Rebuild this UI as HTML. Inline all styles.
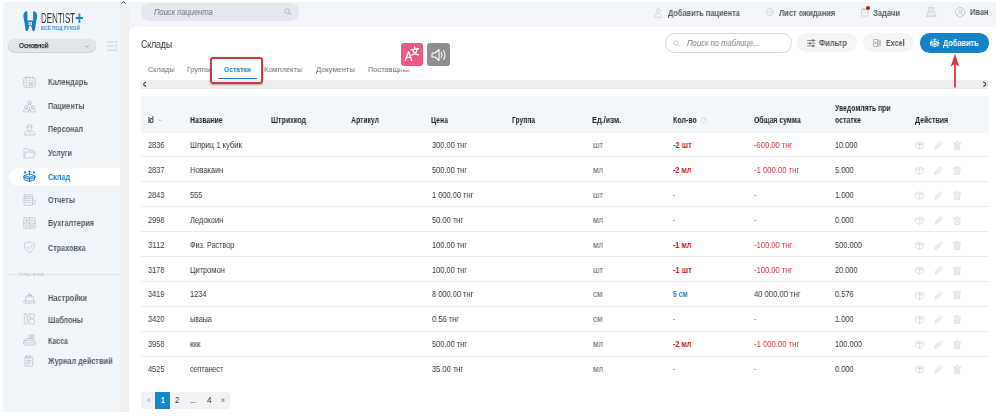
<!DOCTYPE html>
<html lang="ru">
<head>
<meta charset="utf-8">
<title>Dentist+ — Склады</title>
<style>
html,body{margin:0;padding:0;}
body{width:1000px;height:416px;position:relative;overflow:hidden;background:#fff;font-family:"Liberation Sans",sans-serif;}
.a{position:absolute;}
.t{position:absolute;white-space:nowrap;line-height:14px;height:14px;transform-origin:0 50%;will-change:transform;}
svg{position:absolute;overflow:visible;}
.ic{fill:none;stroke:#b3bbc7;stroke-width:1.3;stroke-linecap:round;stroke-linejoin:round;}
.hr{position:absolute;left:141px;width:847px;height:1px;background:#ececec;}
</style>
</head>
<body>
<!-- backgrounds -->
<div class="a" style="left:2.5px;top:1.5px;width:117px;height:410.4px;background:#f0f5fa;"></div>
<div class="a" style="left:119.5px;top:1.5px;width:9px;height:410.4px;background:#f0f0f0;"></div>
<div class="a" style="left:128.5px;top:1.5px;width:867px;height:34px;background:#f2f6fa;"></div>
<div class="a" style="left:128.5px;top:26.7px;width:867px;height:389.3px;background:#fff;border-top-left-radius:6px;"></div>
<!-- scrollbar arrow mark -->
<svg style="left:121.3px;top:0.8px" width="5" height="3" viewBox="0 0 10 6"><path d="M1 5 L5 1 L9 5" fill="none" stroke="#444" stroke-width="2"/></svg>

<!-- logo tooth -->
<svg style="left:22.5px;top:11px" width="14.5" height="20.5" viewBox="0 0 29 41">
<path d="M6.5 0.5 C2 2 0 7 1 13 C2 19 3.5 24 4 30 C4.4 35 5 40 7.5 40.5 C10 41 10.6 36 11.5 33 C12.2 30.5 13 29.5 14.5 29.5 C16 29.5 16.8 30.5 17.5 33 C18.4 36 19 41 21.5 40.5 C24 40 24.6 35 25 30 C25.5 24 27 19 28 13 C29 7 27 2 22.5 0.5 C21 0 20.2 1 20.2 2.5 L20.2 19 L8.8 19 L8.8 2.5 C8.8 1 8 0 6.5 0.5 Z" fill="#1b80c2"/>
<rect x="11" y="22" width="7" height="6.5" fill="#cfe6f5"/>
<rect x="13.3" y="24.5" width="2.4" height="2" fill="#1b80c2"/>
</svg>

<!-- clinic select -->
<div class="a" style="left:8px;top:39.4px;width:88px;height:12.2px;border-radius:6.5px;background:#e2e6eb;box-shadow:0 0.4px 1px rgba(0,0,0,.28);"></div>
<svg style="left:84.5px;top:45px" width="4.5" height="3" viewBox="0 0 9 6"><path d="M1 1 L4.5 4.5 L8 1" fill="none" stroke="#777" stroke-width="1.2"/></svg>
<!-- hamburger -->
<svg style="left:107px;top:41px" width="11" height="10" viewBox="0 0 22 20"><path d="M1 1.5 H20 M1 10 H13 M1 18.5 H20" class="ic" style="stroke:#bcc4cf;stroke-width:1.6"/><path d="M20 7 L16.5 10 L20 13" class="ic" style="stroke:#bcc4cf;stroke-width:1.4"/></svg>

<!-- active menu pill -->
<div class="a" style="left:9px;top:167.5px;width:110.5px;height:18px;background:#fff;border-radius:9px 0 0 9px;"></div>

<svg style="left:23px;top:75.7px" width="13" height="12" viewBox="0 0 26 24"><g class="ic" style=""><rect x="1.5" y="3" width="23" height="19.5" rx="3.5"/><path d="M7 1 V5 M13 1 V5 M19 1 V5"/><path d="M1.5 8.5 H24.5 M7.5 8.5 V22 M13 8.5 V22 M18.5 8.5 V22 M1.5 13 H24.5 M1.5 17.5 H24.5" stroke-opacity=".45"/><rect x="14.5" y="14" width="4" height="4"/></g></svg>
<svg style="left:23px;top:99.5px" width="13" height="12" viewBox="0 0 26 24"><g class="ic" style=""><circle cx="13" cy="5" r="3.2"/><path d="M8.5 14 V12 C8.5 9.5 10.5 8.6 13 8.6 C15.5 8.6 17.5 9.5 17.5 12 V14"/><circle cx="6" cy="14.5" r="2.8"/><circle cx="20" cy="14.5" r="2.8"/><path d="M1.2 23 V21 C1.2 18.7 3.2 17.8 6 17.8 C8.8 17.8 10.8 18.7 10.8 21 V23 Z"/><path d="M15.2 23 V21 C15.2 18.7 17.2 17.8 20 17.8 C22.8 17.8 24.8 18.7 24.8 21 V23 Z"/><path d="M13 14 V21 M11.3 19.3 L13 21 L14.7 19.3"/></g></svg>
<svg style="left:23px;top:122.5px" width="13" height="12" viewBox="0 0 26 24"><g class="ic" style=""><path d="M8 6 C8 2 18 2 18 6 V7.5 H8 Z"/><path d="M8.3 7.5 C8 12 10 15 13 15 C16 15 18 12 17.7 7.5"/><path d="M2 23 C2 18.5 5 17 9.5 16.2 L13 19.5 L16.5 16.2 C21 17 24 18.5 24 23 Z"/></g></svg>
<svg style="left:23px;top:146.7px" width="13" height="12" viewBox="0 0 26 24"><g class="ic" style=""><path d="M2 21 V4.5 C2 3.5 2.8 3 3.5 3 H9 L11.5 6 H20 C21 6 21.5 6.7 21.5 7.5 V10"/><path d="M2 21 L6 10 H25 L21 21 Z"/></g></svg>
<svg style="left:23px;top:170.3px" width="13" height="12" viewBox="0 0 26 24"><g class="ic" style="stroke:#1b80c2;stroke-width:1.9"><path d="M3 11 L13 14.5 L23 11 V19.5 L13 23 L3 19.5 Z" fill="#cfe9f7"/><path d="M13 14.5 V23"/><path d="M3 11 L13 7.8 L23 11"/><path d="M3 11 L0.8 14.2 L10.5 17.6 L13 14.5 L15.5 17.6 L25.2 14.2 L23 11"/><path d="M13 10.5 V2 M10.3 4.6 L13 1.6 L15.7 4.6"/><path d="M2 7 L5.2 4 M5.2 4 V6.3 M5.2 4 H2.9"/><path d="M24 7 L20.8 4 M20.8 4 V6.3 M20.8 4 H23.1"/></g></svg>
<svg style="left:23px;top:193.8px" width="13" height="12" viewBox="0 0 26 24"><g class="ic" style=""><rect x="2" y="1.5" width="17" height="21" rx="1.5"/><path d="M5 5 H16 V9 H5 Z M5 13 H8 M10 13 H13 M5 17 H8 M10 17 H13 M15 13 H16 M15 17 H16"/><path d="M19 12 H24 V20 H19"/></g></svg>
<svg style="left:23px;top:217.2px" width="13" height="12" viewBox="0 0 26 24"><g class="ic" style=""><rect x="1.5" y="1.5" width="23" height="21" rx="2.5"/><path d="M13 1.5 V22.5 M1.5 12 H24.5"/><path d="M5 6.8 H10 M7.5 4.3 V9.3 M16 6.8 H21 M5.2 15 L9.8 19.5 M9.8 15 L5.2 19.5 M16 16 H21 M16 18.8 H21"/></g></svg>
<svg style="left:23px;top:241.3px" width="13" height="12" viewBox="0 0 26 24"><g class="ic" style=""><path d="M13 1.5 C9 4 5.5 4.8 2.5 4.8 C2.5 13 5 19.5 13 23 C21 19.5 23.5 13 23.5 4.8 C20.5 4.8 17 4 13 1.5 Z"/><path d="M8 12 L11.8 15.8 L18.5 8.5"/></g></svg>
<svg style="left:23px;top:292.3px" width="13" height="12" viewBox="0 0 26 24"><g class="ic" style=""><path d="M5 18 V9.5 H9 M17 9.5 H21 V18"/><path d="M1.5 18 H24.5 V19.5 C24.5 21 23.8 22 22.5 22 H3.5 C2.2 22 1.5 21 1.5 19.5 Z"/><circle cx="13" cy="7" r="3.2"/><circle cx="13" cy="7" r="0.8"/><path d="M13 2 V3.8 M17.5 7 H16.2 M8.5 7 H9.8"/></g></svg>
<svg style="left:23px;top:312.6px" width="13" height="12" viewBox="0 0 26 24"><g class="ic" style=""><rect x="2.5" y="2" width="6" height="20" rx="2"/><rect x="12" y="2" width="11" height="7" rx="2"/><rect x="12" y="12.5" width="11" height="9.5" rx="2"/></g></svg>
<svg style="left:23px;top:333.9px" width="13" height="12" viewBox="0 0 26 24"><g class="ic" style=""><rect x="1.5" y="13" width="23" height="9" rx="1.5"/><path d="M1.5 17.5 H24.5"/><path d="M5 13 L6.5 9 H19.5 L21 13"/><rect x="13" y="1.5" width="8.5" height="7.5"/><path d="M15 4 H19.5 M15 6.5 H19.5"/></g></svg>
<svg style="left:23px;top:354.8px" width="13" height="12" viewBox="0 0 26 24"><g class="ic" style=""><path d="M5 4 H18 C19 4 19.5 4.6 19.5 5.5 V21 C19.5 22 19 22.5 18 22.5 H5 C4 22.5 3.5 22 3.5 21 V5.5 C3.5 4.6 4 4 5 4 Z"/><path d="M8 1.5 H15 V7 H8 Z"/><path d="M7 11 H16 M7 14.5 H16 M7 18 H13"/></g></svg>
<svg style="left:654px;top:7.6px" width="8" height="9.4" viewBox="0 0 16 19"><g class="ic" style="stroke:#c3c9d1;stroke-width:1.4"><circle cx="8" cy="5" r="3.8"/><path d="M1 18 C1 12.5 4 10.8 8 10.8 C12 10.8 15 12.5 15 18 Z"/></g></svg>
<svg style="left:766px;top:8.3px" width="8" height="8" viewBox="0 0 16 16"><g class="ic" style="stroke:#c3c9d1;stroke-width:1.4"><circle cx="8" cy="8" r="7"/><path d="M8 4 V8.3 H11.5"/></g></svg>
<svg style="left:861.2px;top:8.4px" width="7.2" height="8.6" viewBox="0 0 15 18"><g class="ic" style="stroke:#bfc5ce;stroke-width:1.4"><rect x="1" y="2.5" width="13" height="14.5" rx="1.5"/><path d="M4.5 1 H10.5 V4 H4.5 Z M4 10.5 L6 12.5 L9.5 8.5"/></g></svg>
<div class="a" style="left:866.2px;top:6px;width:4.3px;height:4.3px;border-radius:50%;background:#c8141c;"></div>
<svg style="left:925.6px;top:6.8px" width="10.6" height="10.2" viewBox="0 0 21 20"><g class="ic" style="stroke:#ccd1d8;stroke-width:1.5"><path d="M5 1 V10 M8.5 1 V10 M12.5 1 V10 M16 1 V10 M5 1 H16"/><path d="M4.5 10 H16.5 L19 16 H2 Z"/><path d="M1 19 H20 M2 16 V19 M19 16 V19"/></g></svg>
<svg style="left:954.6px;top:7.2px" width="10.4" height="10.4" viewBox="0 0 21 21"><g class="ic" style="stroke:#b5bbc4;stroke-width:1.3"><circle cx="10.5" cy="10.5" r="9.6"/><circle cx="10.5" cy="8" r="3.2"/><path d="M4.3 17.5 C5 13.8 7.5 12.8 10.5 12.8 C13.5 12.8 16 13.8 16.7 17.5"/></g></svg>

<!-- section divider -->
<div class="a" style="left:9px;top:274.3px;width:8px;height:0.7px;background:#dde3e9;"></div>
<div class="a" style="left:46px;top:274.3px;width:73px;height:0.7px;background:#dde3e9;"></div>

<!-- top search pill -->
<div class="a" style="left:141px;top:3px;width:158.3px;height:17.7px;border-radius:8.9px;background:#e3e8ee;"></div>
<svg style="left:283.8px;top:7.9px" width="7.5" height="7.5" viewBox="0 0 15 15"><circle cx="6.3" cy="6.3" r="4.8" fill="none" stroke="#9aa2ad" stroke-width="1.3"/><path d="M10 10 L13.6 13.6" stroke="#9aa2ad" stroke-width="1.5" stroke-linecap="round"/></svg>

<!-- toolbar -->
<div class="a" style="left:665px;top:33px;width:125px;height:18px;border-radius:9.5px;border:0.8px solid #d6d9dd;background:#fff;"></div>
<svg style="left:673px;top:39.8px" width="7" height="7" viewBox="0 0 15 15"><circle cx="6.3" cy="6.3" r="4.8" fill="none" stroke="#a9aeb5" stroke-width="1.4"/><path d="M10 10 L13.6 13.6" stroke="#a9aeb5" stroke-width="1.5" stroke-linecap="round"/></svg>
<div class="a" style="left:796.5px;top:33px;width:60.5px;height:19.2px;border-radius:9.6px;background:#f4f5f6;"></div>
<div class="a" style="left:863.2px;top:33px;width:51px;height:19.2px;border-radius:9.6px;background:#f4f5f6;"></div>
<div class="a" style="left:920px;top:33px;width:69.3px;height:19.5px;border-radius:9.8px;background:#1583c6;"></div>
<!-- filter icon -->
<svg style="left:807px;top:39.2px" width="8.6" height="8.4" viewBox="0 0 17 17"><g fill="none" stroke="#5a5f68" stroke-width="1.4" stroke-linecap="round"><path d="M1 3 H16 M1 8.5 H16 M1 14 H16"/><path d="M12 1.2 V4.8 M6 6.7 V10.3 M12 12.2 V15.8" stroke-width="2.4"/></g></svg>
<!-- excel icon -->
<svg style="left:873.2px;top:38.9px" width="8.6" height="8" viewBox="0 0 18 17"><rect x="10.2" y="1.5" width="7" height="14" fill="#c9ccd1"/><g fill="none" stroke="#8b9098" stroke-width="1.3" stroke-linejoin="round"><path d="M1 1 H9.5 V16 H1 Z"/><path d="M3.8 6 L6.8 11 M6.8 6 L3.8 11"/></g></svg>
<!-- add (box) icon white -->
<svg style="left:930.2px;top:38px" width="9.4" height="9.6" viewBox="0 0 26 25"><g fill="none" stroke="#fff" stroke-width="2.3" stroke-linejoin="round" stroke-linecap="round"><path d="M3 11 L13 14.5 L23 11 V19.5 L13 23 L3 19.5 Z"/><path d="M13 14.5 V23"/><path d="M3 11 L13 7.8 L23 11"/><path d="M3 11 L0.8 14.2 L10.5 17.6 L13 14.5 L15.5 17.6 L25.2 14.2 L23 11"/><path d="M13 10.5 V2 M10.3 4.6 L13 1.6 L15.7 4.6"/><path d="M2 7 L5.2 4 M24 7 L20.8 4"/></g></svg>


<!-- tabs scroll bar -->
<div class="a" style="left:141px;top:80px;width:847px;height:8.5px;background:#ededed;"></div>
<div class="a" style="left:217.6px;top:78px;width:39.4px;height:1.3px;background:#1b80c2;"></div>
<!-- red highlight box around tab -->
<div class="a" style="left:210px;top:57px;width:49px;height:23px;border:2px solid #cc3b40;border-radius:3px;box-shadow:0 0.5px 1.5px rgba(120,0,0,.35);"></div>

<!-- floating translate / speaker buttons -->
<div class="a" style="left:399.5px;top:64px;width:25.5px;height:6px;background:rgba(255,255,255,.92);z-index:5;"></div>
<div class="a" style="left:400.7px;top:43px;width:22.6px;height:22.8px;border-radius:3px;background:#e85c80;z-index:6;"></div>
<div class="a" style="left:427px;top:43px;width:22.6px;height:22.8px;border-radius:3px;background:#8e8e8e;z-index:6;"></div>
<svg style="left:404.3px;top:46.3px;z-index:6" width="16" height="16" viewBox="0 0 28 28"><g fill="none" stroke="#fff" stroke-width="2.3" stroke-linecap="round" stroke-linejoin="round"><path d="M2 25.5 L8.2 10 L13.5 25.5 M4.3 20 H11.6"/><path d="M12.5 6.5 L25.5 4.5 M18.5 2.2 L19 5.5 M15 6.5 C16.5 11 20 14.5 25 15.5 M23 5 C22.5 10 19 14.5 13.5 16"/></g></svg>
<svg style="left:430.5px;top:47.5px;z-index:6" width="16" height="14" viewBox="0 0 32 28"><g fill="none" stroke="#fff" stroke-width="2.2" stroke-linecap="round" stroke-linejoin="round"><path d="M2 10 H8 L16 3 V25 L8 18 H2 Z"/><path d="M20.5 9 C22.5 12 22.5 16 20.5 19"/><path d="M25 5 C29 10 29 18 25 23"/></g></svg>

<!-- red arrow -->
<svg style="left:948.6px;top:53px" width="12" height="36" viewBox="0 0 12 36"><path d="M6 34.6 V8" stroke="#de3541" stroke-width="1.8" fill="none"/><path d="M6 0.8 L10.3 13.4 L6 11 L1.7 13.4 Z" fill="#de3541"/></svg>

<!-- table header band -->
<div class="a" style="left:141.2px;top:96.1px;width:848px;height:36.5px;background:#f3f7fa;"></div>
<svg style="left:158px;top:118.7px" width="4.4" height="3" viewBox="0 0 9 6"><path d="M1 1 L4.5 4.5 L8 1" fill="none" stroke="#8d939b" stroke-width="1.2"/></svg>
<svg style="left:701.2px;top:117px" width="6.2" height="6.2" viewBox="0 0 12 12"><circle cx="6" cy="6" r="5.2" fill="none" stroke="#c9ced5" stroke-width="1"/><path d="M4.5 4.8 C4.5 3 7.5 3 7.5 4.8 C7.5 6 6 6 6 7.3 M6 8.8 V9" fill="none" stroke="#c9ced5" stroke-width="1"/></svg>

<div class="hr" style="top:156.00px"></div>
<svg style="left:914.8px;top:140.9px" width="9.2" height="9" viewBox="0 0 18 18"><g class="ic" style="stroke:#d6d8db;stroke-width:1.5"><path d="M1.5 5 L9 1.5 L16.5 5 V13 L9 16.8 L1.5 13 Z"/><path d="M1.5 5 L9 8.5 L16.5 5 M9 8.5 V16.8"/><path d="M6.5 6.5 L11.5 6.5 M9 4 V6.5"/></g></svg>
<svg style="left:933.8px;top:140.9px" width="8.8" height="9" viewBox="0 0 18 18"><g class="ic" style="stroke:#d6d8db;stroke-width:1.5"><path d="M2 16 L3 11.5 L12.5 2 C13.5 1 14.5 1 15.5 2 L16 2.5 C17 3.5 17 4.5 16 5.5 L6.5 15 Z" /><path d="M4 11 L7 14 M6 9.5 L9 12.5 M8 7.5 L11 10.5 M10 5.5 L13 8.5"/></g></svg>
<svg style="left:953px;top:140.8px" width="8.2" height="9.2" viewBox="0 0 16 18"><g class="ic" style="stroke:#d6d8db;stroke-width:1.5"><path d="M1 4 H15 M5.5 4 V1.5 H10.5 V4 M2.5 4 L3.3 16.5 H12.7 L13.5 4"/><path d="M6 7 V14 M8 7 V14 M10 7 V14"/></g></svg>
<div class="hr" style="top:180.94px"></div>
<svg style="left:914.8px;top:165.84px" width="9.2" height="9" viewBox="0 0 18 18"><g class="ic" style="stroke:#d6d8db;stroke-width:1.5"><path d="M1.5 5 L9 1.5 L16.5 5 V13 L9 16.8 L1.5 13 Z"/><path d="M1.5 5 L9 8.5 L16.5 5 M9 8.5 V16.8"/><path d="M6.5 6.5 L11.5 6.5 M9 4 V6.5"/></g></svg>
<svg style="left:933.8px;top:165.84px" width="8.8" height="9" viewBox="0 0 18 18"><g class="ic" style="stroke:#d6d8db;stroke-width:1.5"><path d="M2 16 L3 11.5 L12.5 2 C13.5 1 14.5 1 15.5 2 L16 2.5 C17 3.5 17 4.5 16 5.5 L6.5 15 Z" /><path d="M4 11 L7 14 M6 9.5 L9 12.5 M8 7.5 L11 10.5 M10 5.5 L13 8.5"/></g></svg>
<svg style="left:953px;top:165.74px" width="8.2" height="9.2" viewBox="0 0 16 18"><g class="ic" style="stroke:#d6d8db;stroke-width:1.5"><path d="M1 4 H15 M5.5 4 V1.5 H10.5 V4 M2.5 4 L3.3 16.5 H12.7 L13.5 4"/><path d="M6 7 V14 M8 7 V14 M10 7 V14"/></g></svg>
<div class="hr" style="top:205.88px"></div>
<svg style="left:914.8px;top:190.78px" width="9.2" height="9" viewBox="0 0 18 18"><g class="ic" style="stroke:#d6d8db;stroke-width:1.5"><path d="M1.5 5 L9 1.5 L16.5 5 V13 L9 16.8 L1.5 13 Z"/><path d="M1.5 5 L9 8.5 L16.5 5 M9 8.5 V16.8"/><path d="M6.5 6.5 L11.5 6.5 M9 4 V6.5"/></g></svg>
<svg style="left:933.8px;top:190.78px" width="8.8" height="9" viewBox="0 0 18 18"><g class="ic" style="stroke:#d6d8db;stroke-width:1.5"><path d="M2 16 L3 11.5 L12.5 2 C13.5 1 14.5 1 15.5 2 L16 2.5 C17 3.5 17 4.5 16 5.5 L6.5 15 Z" /><path d="M4 11 L7 14 M6 9.5 L9 12.5 M8 7.5 L11 10.5 M10 5.5 L13 8.5"/></g></svg>
<svg style="left:953px;top:190.68px" width="8.2" height="9.2" viewBox="0 0 16 18"><g class="ic" style="stroke:#d6d8db;stroke-width:1.5"><path d="M1 4 H15 M5.5 4 V1.5 H10.5 V4 M2.5 4 L3.3 16.5 H12.7 L13.5 4"/><path d="M6 7 V14 M8 7 V14 M10 7 V14"/></g></svg>
<div class="hr" style="top:230.82px"></div>
<svg style="left:914.8px;top:215.72px" width="9.2" height="9" viewBox="0 0 18 18"><g class="ic" style="stroke:#d6d8db;stroke-width:1.5"><path d="M1.5 5 L9 1.5 L16.5 5 V13 L9 16.8 L1.5 13 Z"/><path d="M1.5 5 L9 8.5 L16.5 5 M9 8.5 V16.8"/><path d="M6.5 6.5 L11.5 6.5 M9 4 V6.5"/></g></svg>
<svg style="left:933.8px;top:215.72px" width="8.8" height="9" viewBox="0 0 18 18"><g class="ic" style="stroke:#d6d8db;stroke-width:1.5"><path d="M2 16 L3 11.5 L12.5 2 C13.5 1 14.5 1 15.5 2 L16 2.5 C17 3.5 17 4.5 16 5.5 L6.5 15 Z" /><path d="M4 11 L7 14 M6 9.5 L9 12.5 M8 7.5 L11 10.5 M10 5.5 L13 8.5"/></g></svg>
<svg style="left:953px;top:215.62px" width="8.2" height="9.2" viewBox="0 0 16 18"><g class="ic" style="stroke:#d6d8db;stroke-width:1.5"><path d="M1 4 H15 M5.5 4 V1.5 H10.5 V4 M2.5 4 L3.3 16.5 H12.7 L13.5 4"/><path d="M6 7 V14 M8 7 V14 M10 7 V14"/></g></svg>
<div class="hr" style="top:255.76px"></div>
<svg style="left:914.8px;top:240.66px" width="9.2" height="9" viewBox="0 0 18 18"><g class="ic" style="stroke:#d6d8db;stroke-width:1.5"><path d="M1.5 5 L9 1.5 L16.5 5 V13 L9 16.8 L1.5 13 Z"/><path d="M1.5 5 L9 8.5 L16.5 5 M9 8.5 V16.8"/><path d="M6.5 6.5 L11.5 6.5 M9 4 V6.5"/></g></svg>
<svg style="left:933.8px;top:240.66px" width="8.8" height="9" viewBox="0 0 18 18"><g class="ic" style="stroke:#d6d8db;stroke-width:1.5"><path d="M2 16 L3 11.5 L12.5 2 C13.5 1 14.5 1 15.5 2 L16 2.5 C17 3.5 17 4.5 16 5.5 L6.5 15 Z" /><path d="M4 11 L7 14 M6 9.5 L9 12.5 M8 7.5 L11 10.5 M10 5.5 L13 8.5"/></g></svg>
<svg style="left:953px;top:240.56px" width="8.2" height="9.2" viewBox="0 0 16 18"><g class="ic" style="stroke:#d6d8db;stroke-width:1.5"><path d="M1 4 H15 M5.5 4 V1.5 H10.5 V4 M2.5 4 L3.3 16.5 H12.7 L13.5 4"/><path d="M6 7 V14 M8 7 V14 M10 7 V14"/></g></svg>
<div class="hr" style="top:280.70px"></div>
<svg style="left:914.8px;top:265.6px" width="9.2" height="9" viewBox="0 0 18 18"><g class="ic" style="stroke:#d6d8db;stroke-width:1.5"><path d="M1.5 5 L9 1.5 L16.5 5 V13 L9 16.8 L1.5 13 Z"/><path d="M1.5 5 L9 8.5 L16.5 5 M9 8.5 V16.8"/><path d="M6.5 6.5 L11.5 6.5 M9 4 V6.5"/></g></svg>
<svg style="left:933.8px;top:265.6px" width="8.8" height="9" viewBox="0 0 18 18"><g class="ic" style="stroke:#d6d8db;stroke-width:1.5"><path d="M2 16 L3 11.5 L12.5 2 C13.5 1 14.5 1 15.5 2 L16 2.5 C17 3.5 17 4.5 16 5.5 L6.5 15 Z" /><path d="M4 11 L7 14 M6 9.5 L9 12.5 M8 7.5 L11 10.5 M10 5.5 L13 8.5"/></g></svg>
<svg style="left:953px;top:265.5px" width="8.2" height="9.2" viewBox="0 0 16 18"><g class="ic" style="stroke:#d6d8db;stroke-width:1.5"><path d="M1 4 H15 M5.5 4 V1.5 H10.5 V4 M2.5 4 L3.3 16.5 H12.7 L13.5 4"/><path d="M6 7 V14 M8 7 V14 M10 7 V14"/></g></svg>
<div class="hr" style="top:305.64px"></div>
<svg style="left:914.8px;top:290.5400000000001px" width="9.2" height="9" viewBox="0 0 18 18"><g class="ic" style="stroke:#d6d8db;stroke-width:1.5"><path d="M1.5 5 L9 1.5 L16.5 5 V13 L9 16.8 L1.5 13 Z"/><path d="M1.5 5 L9 8.5 L16.5 5 M9 8.5 V16.8"/><path d="M6.5 6.5 L11.5 6.5 M9 4 V6.5"/></g></svg>
<svg style="left:933.8px;top:290.5400000000001px" width="8.8" height="9" viewBox="0 0 18 18"><g class="ic" style="stroke:#d6d8db;stroke-width:1.5"><path d="M2 16 L3 11.5 L12.5 2 C13.5 1 14.5 1 15.5 2 L16 2.5 C17 3.5 17 4.5 16 5.5 L6.5 15 Z" /><path d="M4 11 L7 14 M6 9.5 L9 12.5 M8 7.5 L11 10.5 M10 5.5 L13 8.5"/></g></svg>
<svg style="left:953px;top:290.44000000000005px" width="8.2" height="9.2" viewBox="0 0 16 18"><g class="ic" style="stroke:#d6d8db;stroke-width:1.5"><path d="M1 4 H15 M5.5 4 V1.5 H10.5 V4 M2.5 4 L3.3 16.5 H12.7 L13.5 4"/><path d="M6 7 V14 M8 7 V14 M10 7 V14"/></g></svg>
<div class="hr" style="top:330.58px"></div>
<svg style="left:914.8px;top:315.48px" width="9.2" height="9" viewBox="0 0 18 18"><g class="ic" style="stroke:#d6d8db;stroke-width:1.5"><path d="M1.5 5 L9 1.5 L16.5 5 V13 L9 16.8 L1.5 13 Z"/><path d="M1.5 5 L9 8.5 L16.5 5 M9 8.5 V16.8"/><path d="M6.5 6.5 L11.5 6.5 M9 4 V6.5"/></g></svg>
<svg style="left:933.8px;top:315.48px" width="8.8" height="9" viewBox="0 0 18 18"><g class="ic" style="stroke:#d6d8db;stroke-width:1.5"><path d="M2 16 L3 11.5 L12.5 2 C13.5 1 14.5 1 15.5 2 L16 2.5 C17 3.5 17 4.5 16 5.5 L6.5 15 Z" /><path d="M4 11 L7 14 M6 9.5 L9 12.5 M8 7.5 L11 10.5 M10 5.5 L13 8.5"/></g></svg>
<svg style="left:953px;top:315.38px" width="8.2" height="9.2" viewBox="0 0 16 18"><g class="ic" style="stroke:#d6d8db;stroke-width:1.5"><path d="M1 4 H15 M5.5 4 V1.5 H10.5 V4 M2.5 4 L3.3 16.5 H12.7 L13.5 4"/><path d="M6 7 V14 M8 7 V14 M10 7 V14"/></g></svg>
<div class="hr" style="top:355.52px"></div>
<svg style="left:914.8px;top:340.4200000000001px" width="9.2" height="9" viewBox="0 0 18 18"><g class="ic" style="stroke:#d6d8db;stroke-width:1.5"><path d="M1.5 5 L9 1.5 L16.5 5 V13 L9 16.8 L1.5 13 Z"/><path d="M1.5 5 L9 8.5 L16.5 5 M9 8.5 V16.8"/><path d="M6.5 6.5 L11.5 6.5 M9 4 V6.5"/></g></svg>
<svg style="left:933.8px;top:340.4200000000001px" width="8.8" height="9" viewBox="0 0 18 18"><g class="ic" style="stroke:#d6d8db;stroke-width:1.5"><path d="M2 16 L3 11.5 L12.5 2 C13.5 1 14.5 1 15.5 2 L16 2.5 C17 3.5 17 4.5 16 5.5 L6.5 15 Z" /><path d="M4 11 L7 14 M6 9.5 L9 12.5 M8 7.5 L11 10.5 M10 5.5 L13 8.5"/></g></svg>
<svg style="left:953px;top:340.32000000000005px" width="8.2" height="9.2" viewBox="0 0 16 18"><g class="ic" style="stroke:#d6d8db;stroke-width:1.5"><path d="M1 4 H15 M5.5 4 V1.5 H10.5 V4 M2.5 4 L3.3 16.5 H12.7 L13.5 4"/><path d="M6 7 V14 M8 7 V14 M10 7 V14"/></g></svg>
<svg style="left:914.8px;top:365.36px" width="9.2" height="9" viewBox="0 0 18 18"><g class="ic" style="stroke:#d6d8db;stroke-width:1.5"><path d="M1.5 5 L9 1.5 L16.5 5 V13 L9 16.8 L1.5 13 Z"/><path d="M1.5 5 L9 8.5 L16.5 5 M9 8.5 V16.8"/><path d="M6.5 6.5 L11.5 6.5 M9 4 V6.5"/></g></svg>
<svg style="left:933.8px;top:365.36px" width="8.8" height="9" viewBox="0 0 18 18"><g class="ic" style="stroke:#d6d8db;stroke-width:1.5"><path d="M2 16 L3 11.5 L12.5 2 C13.5 1 14.5 1 15.5 2 L16 2.5 C17 3.5 17 4.5 16 5.5 L6.5 15 Z" /><path d="M4 11 L7 14 M6 9.5 L9 12.5 M8 7.5 L11 10.5 M10 5.5 L13 8.5"/></g></svg>
<svg style="left:953px;top:365.26px" width="8.2" height="9.2" viewBox="0 0 16 18"><g class="ic" style="stroke:#d6d8db;stroke-width:1.5"><path d="M1 4 H15 M5.5 4 V1.5 H10.5 V4 M2.5 4 L3.3 16.5 H12.7 L13.5 4"/><path d="M6 7 V14 M8 7 V14 M10 7 V14"/></g></svg>

<!-- pagination -->
<div class="a" style="left:141px;top:391.8px;width:88.6px;height:17.5px;border-radius:2.5px;background:#f1f2f3;"></div>
<div class="a" style="left:155.1px;top:391.8px;width:15.1px;height:17.5px;background:#1588cc;"></div>

<span class="t" id="t0" style="left:18.8px;top:39.40px;font-size:7.6px;font-weight:400;color:#1c1f24;transform:scaleX(0.8441);-webkit-text-stroke:0.25px #1c1f24;">Основной</span>
<span class="t" id="t1" style="left:47.5px;top:75.00px;font-size:8.3px;font-weight:700;color:#545b66;transform:scaleX(0.8964);">Календарь</span>
<span class="t" id="t2" style="left:47.5px;top:98.75px;font-size:8.3px;font-weight:700;color:#545b66;transform:scaleX(0.8782);">Пациенты</span>
<span class="t" id="t3" style="left:47.5px;top:122.00px;font-size:8.3px;font-weight:700;color:#545b66;transform:scaleX(0.8699);">Персонал</span>
<span class="t" id="t4" style="left:47.5px;top:146.00px;font-size:8.3px;font-weight:700;color:#545b66;transform:scaleX(0.8698);">Услуги</span>
<span class="t" id="t5" style="left:47.5px;top:169.75px;font-size:8.3px;font-weight:700;color:#1b80c2;transform:scaleX(0.8659);">Склад</span>
<span class="t" id="t6" style="left:47.5px;top:193.00px;font-size:8.3px;font-weight:700;color:#545b66;transform:scaleX(0.8710);">Отчеты</span>
<span class="t" id="t7" style="left:47.5px;top:216.25px;font-size:8.3px;font-weight:700;color:#545b66;transform:scaleX(0.8809);">Бухгалтерия</span>
<span class="t" id="t8" style="left:47.5px;top:240.50px;font-size:8.3px;font-weight:700;color:#545b66;transform:scaleX(0.8702);">Страховка</span>
<span class="t" id="t9" style="left:47.5px;top:291.00px;font-size:8.3px;font-weight:700;color:#545b66;transform:scaleX(0.8908);">Настройки</span>
<span class="t" id="t10" style="left:47.5px;top:312.50px;font-size:8.3px;font-weight:700;color:#545b66;transform:scaleX(0.8706);">Шаблоны</span>
<span class="t" id="t11" style="left:47.5px;top:333.50px;font-size:8.3px;font-weight:700;color:#545b66;transform:scaleX(0.8427);">Касса</span>
<span class="t" id="t12" style="left:47.5px;top:354.20px;font-size:8.3px;font-weight:700;color:#545b66;transform:scaleX(0.8807);">Журнал действий</span>
<span class="t" id="t13" style="left:18px;top:267.60px;font-size:3.6px;font-weight:400;color:#b4bbc5;transform:scaleX(1.1199);">УПРАВЛЕНИЕ</span>
<span class="t" id="t14" style="left:41.2px;top:11.70px;font-size:13.8px;font-weight:400;color:#38383a;transform:scaleX(0.5760);">DENTIST</span>
<span class="t" id="t15" style="left:75px;top:10.60px;font-size:18.5px;font-weight:700;color:#2186c8;transform:scaleX(0.7954);">+</span>
<span class="t" id="t16" style="left:41.2px;top:21.40px;font-size:5.4px;font-weight:700;color:#3d95d3;transform:scaleX(0.8765);">ВСЁ ПОД РУКОЙ</span>
<span class="t" id="t17" style="left:154.4px;top:5.40px;font-size:8.3px;font-weight:400;color:#6b727d;font-style:italic;transform:scaleX(0.9048);">Поиск пациента</span>
<span class="t" id="t18" style="left:667.5px;top:5.50px;font-size:8.3px;font-weight:700;color:#555b65;transform:scaleX(0.8899);">Добавить пациента</span>
<span class="t" id="t19" style="left:779.25px;top:5.50px;font-size:8.3px;font-weight:700;color:#555b65;transform:scaleX(0.8973);">Лист ожидания</span>
<span class="t" id="t20" style="left:873px;top:5.50px;font-size:8.3px;font-weight:700;color:#555b65;transform:scaleX(0.9182);">Задачи</span>
<span class="t" id="t21" style="left:970px;top:5.30px;font-size:8.3px;font-weight:700;color:#555b65;transform:scaleX(0.9032);">Иван</span>
<span class="t" id="t22" style="left:141px;top:36.50px;font-size:10.6px;font-weight:400;color:#30343a;transform:scaleX(0.8098);">Склады</span>
<span class="t" id="t23" style="left:687px;top:36.00px;font-size:8.3px;font-weight:400;color:#7b818a;font-style:italic;transform:scaleX(0.9225);">Поиск по таблице...</span>
<span class="t" id="t24" style="left:819.25px;top:36.20px;font-size:8.3px;font-weight:700;color:#555a64;transform:scaleX(0.8961);">Фильтр</span>
<span class="t" id="t25" style="left:885.75px;top:36.20px;font-size:8.3px;font-weight:700;color:#555a64;transform:scaleX(0.8530);">Excel</span>
<span class="t" id="t26" style="left:943px;top:36.00px;font-size:8.3px;font-weight:700;color:#ffffff;transform:scaleX(0.8896);">Добавить</span>
<span class="t" id="t27" style="left:147.5px;top:62.80px;font-size:8.0px;font-weight:400;color:#6a6f78;transform:scaleX(0.9168);">Склады</span>
<span class="t" id="t28" style="left:186.5px;top:62.80px;font-size:8.0px;font-weight:400;color:#6a6f78;transform:scaleX(0.8816);">Группы</span>
<span class="t" id="t29" style="left:224px;top:62.80px;font-size:8.0px;font-weight:700;color:#1b80c2;transform:scaleX(0.8466);">Остатки</span>
<span class="t" id="t30" style="left:264.25px;top:62.80px;font-size:8.0px;font-weight:400;color:#6a6f78;transform:scaleX(0.9315);">Комплекты</span>
<span class="t" id="t31" style="left:315.75px;top:62.80px;font-size:8.0px;font-weight:400;color:#6a6f78;transform:scaleX(0.9394);">Документы</span>
<span class="t" id="t32" style="left:367.5px;top:62.80px;font-size:8.0px;font-weight:400;color:#6a6f78;transform:scaleX(0.9231);">Поставщики</span>
<span class="t" id="t33" style="left:143.0px;top:76.90px;font-size:10.5px;font-weight:700;color:#333;transform:scaleX(0.5537);"><</span>
<span class="t" id="t34" style="left:983.4px;top:76.90px;font-size:10.5px;font-weight:700;color:#333;transform:scaleX(0.5537);">></span>
<span class="t" id="t35" style="left:147.5px;top:112.90px;font-size:8.5px;font-weight:700;color:#1f2226;transform:scaleX(0.7669);">Id</span>
<span class="t" id="t36" style="left:189.5px;top:112.90px;font-size:8.5px;font-weight:700;color:#1f2226;transform:scaleX(0.8100);">Название</span>
<span class="t" id="t37" style="left:270.5px;top:112.90px;font-size:8.5px;font-weight:700;color:#1f2226;transform:scaleX(0.8241);">Штрихкод</span>
<span class="t" id="t38" style="left:350.75px;top:112.90px;font-size:8.5px;font-weight:700;color:#1f2226;transform:scaleX(0.8025);">Артикул</span>
<span class="t" id="t39" style="left:431.25px;top:112.90px;font-size:8.5px;font-weight:700;color:#1f2226;transform:scaleX(0.8132);">Цена</span>
<span class="t" id="t40" style="left:512px;top:112.90px;font-size:8.5px;font-weight:700;color:#1f2226;transform:scaleX(0.7846);">Группа</span>
<span class="t" id="t41" style="left:592px;top:112.90px;font-size:8.5px;font-weight:700;color:#1f2226;transform:scaleX(0.8683);">Ед./изм.</span>
<span class="t" id="t42" style="left:673.25px;top:112.90px;font-size:8.5px;font-weight:700;color:#1f2226;transform:scaleX(0.8270);">Кол-во</span>
<span class="t" id="t43" style="left:753.75px;top:112.90px;font-size:8.5px;font-weight:700;color:#1f2226;transform:scaleX(0.8097);">Общая сумма</span>
<span class="t" id="t44" style="left:834.5px;top:101.10px;font-size:8.5px;font-weight:700;color:#1f2226;transform:scaleX(0.8016);">Уведомлять при</span>
<span class="t" id="t45" style="left:834.5px;top:113.30px;font-size:8.5px;font-weight:700;color:#1f2226;transform:scaleX(0.8165);">остатке</span>
<span class="t" id="t46" style="left:914.5px;top:112.90px;font-size:8.5px;font-weight:700;color:#1f2226;transform:scaleX(0.8164);">Действия</span>
<span class="t" id="t47" style="left:147.7px;top:137.80px;font-size:8.6px;font-weight:400;color:#33373d;transform:scaleX(0.8627);">2836</span>
<span class="t" id="t48" style="left:189.6px;top:137.80px;font-size:8.6px;font-weight:400;color:#33373d;transform:scaleX(0.8915);">Шприц 1 кубик</span>
<span class="t" id="t49" style="left:431.5px;top:137.80px;font-size:8.6px;font-weight:400;color:#33373d;transform:scaleX(0.8642);">300.00 тнг</span>
<span class="t" id="t50" style="left:592.5px;top:137.80px;font-size:8.6px;font-weight:400;color:#5a5f67;transform:scaleX(0.9300);">шт</span>
<span class="t" id="t51" style="left:673.25px;top:137.80px;font-size:8.6px;font-weight:700;color:#c5161d;transform:scaleX(0.8736);">-2 шт</span>
<span class="t" id="t52" style="left:753.75px;top:137.80px;font-size:8.6px;font-weight:400;color:#d0343c;transform:scaleX(0.8810);">-600.00 тнг</span>
<span class="t" id="t53" style="left:834.5px;top:137.80px;font-size:8.6px;font-weight:400;color:#33373d;transform:scaleX(0.8556);">10.000</span>
<span class="t" id="t54" style="left:147.7px;top:162.74px;font-size:8.6px;font-weight:400;color:#33373d;transform:scaleX(0.8627);">2837</span>
<span class="t" id="t55" style="left:189.6px;top:162.74px;font-size:8.6px;font-weight:400;color:#33373d;transform:scaleX(0.8620);">Новакаин</span>
<span class="t" id="t56" style="left:431.5px;top:162.74px;font-size:8.6px;font-weight:400;color:#33373d;transform:scaleX(0.8642);">500.00 тнг</span>
<span class="t" id="t57" style="left:592.5px;top:162.74px;font-size:8.6px;font-weight:400;color:#5a5f67;transform:scaleX(0.9300);">мл</span>
<span class="t" id="t58" style="left:673.25px;top:162.74px;font-size:8.6px;font-weight:700;color:#c5161d;transform:scaleX(0.8372);">-2 мл</span>
<span class="t" id="t59" style="left:753.75px;top:162.74px;font-size:8.6px;font-weight:400;color:#d0343c;transform:scaleX(0.8945);">-1 000.00 тнг</span>
<span class="t" id="t60" style="left:834.5px;top:162.74px;font-size:8.6px;font-weight:400;color:#33373d;transform:scaleX(0.8645);">5.000</span>
<span class="t" id="t61" style="left:147.7px;top:187.68px;font-size:8.6px;font-weight:400;color:#33373d;transform:scaleX(0.8627);">2843</span>
<span class="t" id="t62" style="left:189.6px;top:187.68px;font-size:8.6px;font-weight:400;color:#33373d;transform:scaleX(0.8645);">555</span>
<span class="t" id="t63" style="left:431.5px;top:187.68px;font-size:8.6px;font-weight:400;color:#33373d;transform:scaleX(0.8687);">1 000.00 тнг</span>
<span class="t" id="t64" style="left:592.5px;top:187.68px;font-size:8.6px;font-weight:400;color:#5a5f67;transform:scaleX(0.9300);">шт</span>
<span class="t" id="t65" style="left:673.4px;top:187.68px;font-size:8.6px;font-weight:400;color:#666;transform:scaleX(0.8000);">-</span>
<span class="t" id="t66" style="left:753.9px;top:187.68px;font-size:8.6px;font-weight:400;color:#666;transform:scaleX(0.8000);">-</span>
<span class="t" id="t67" style="left:834.5px;top:187.68px;font-size:8.6px;font-weight:400;color:#33373d;transform:scaleX(0.8645);">1.000</span>
<span class="t" id="t68" style="left:147.7px;top:212.62px;font-size:8.6px;font-weight:400;color:#33373d;transform:scaleX(0.8627);">2998</span>
<span class="t" id="t69" style="left:189.6px;top:212.62px;font-size:8.6px;font-weight:400;color:#33373d;transform:scaleX(0.8687);">Ледокоин</span>
<span class="t" id="t70" style="left:431.5px;top:212.62px;font-size:8.6px;font-weight:400;color:#33373d;transform:scaleX(0.8735);">50.00 тнг</span>
<span class="t" id="t71" style="left:592.5px;top:212.62px;font-size:8.6px;font-weight:400;color:#5a5f67;transform:scaleX(0.9300);">мл</span>
<span class="t" id="t72" style="left:673.4px;top:212.62px;font-size:8.6px;font-weight:400;color:#666;transform:scaleX(0.8000);">-</span>
<span class="t" id="t73" style="left:753.9px;top:212.62px;font-size:8.6px;font-weight:400;color:#666;transform:scaleX(0.8000);">-</span>
<span class="t" id="t74" style="left:834.5px;top:212.62px;font-size:8.6px;font-weight:400;color:#33373d;transform:scaleX(0.8645);">0.000</span>
<span class="t" id="t75" style="left:147.7px;top:237.56px;font-size:8.6px;font-weight:400;color:#33373d;transform:scaleX(0.8926);">3112</span>
<span class="t" id="t76" style="left:189.6px;top:237.56px;font-size:8.6px;font-weight:400;color:#33373d;transform:scaleX(0.8431);">Физ. Раствор</span>
<span class="t" id="t77" style="left:431.5px;top:237.56px;font-size:8.6px;font-weight:400;color:#33373d;transform:scaleX(0.8642);">100.00 тнг</span>
<span class="t" id="t78" style="left:592.5px;top:237.56px;font-size:8.6px;font-weight:400;color:#5a5f67;transform:scaleX(0.9300);">мл</span>
<span class="t" id="t79" style="left:673.25px;top:237.56px;font-size:8.6px;font-weight:700;color:#c5161d;transform:scaleX(0.8372);">-1 мл</span>
<span class="t" id="t80" style="left:753.75px;top:237.56px;font-size:8.6px;font-weight:400;color:#d0343c;transform:scaleX(0.8810);">-100.00 тнг</span>
<span class="t" id="t81" style="left:834.5px;top:237.56px;font-size:8.6px;font-weight:400;color:#33373d;transform:scaleX(0.8688);">500.000</span>
<span class="t" id="t82" style="left:147.7px;top:262.50px;font-size:8.6px;font-weight:400;color:#33373d;transform:scaleX(0.8627);">3178</span>
<span class="t" id="t83" style="left:189.6px;top:262.50px;font-size:8.6px;font-weight:400;color:#33373d;transform:scaleX(0.8680);">Цитромон</span>
<span class="t" id="t84" style="left:431.5px;top:262.50px;font-size:8.6px;font-weight:400;color:#33373d;transform:scaleX(0.8642);">100.00 тнг</span>
<span class="t" id="t85" style="left:592.5px;top:262.50px;font-size:8.6px;font-weight:400;color:#5a5f67;transform:scaleX(0.9300);">шт</span>
<span class="t" id="t86" style="left:673.25px;top:262.50px;font-size:8.6px;font-weight:700;color:#c5161d;transform:scaleX(0.8736);">-1 шт</span>
<span class="t" id="t87" style="left:753.75px;top:262.50px;font-size:8.6px;font-weight:400;color:#d0343c;transform:scaleX(0.8810);">-100.00 тнг</span>
<span class="t" id="t88" style="left:834.5px;top:262.50px;font-size:8.6px;font-weight:400;color:#33373d;transform:scaleX(0.8556);">20.000</span>
<span class="t" id="t89" style="left:147.7px;top:287.44px;font-size:8.6px;font-weight:400;color:#33373d;transform:scaleX(0.8627);">3419</span>
<span class="t" id="t90" style="left:189.6px;top:287.44px;font-size:8.6px;font-weight:400;color:#33373d;transform:scaleX(0.8680);">1234</span>
<span class="t" id="t91" style="left:431.5px;top:287.44px;font-size:8.6px;font-weight:400;color:#33373d;transform:scaleX(0.8687);">8 000.00 тнг</span>
<span class="t" id="t92" style="left:592.5px;top:287.44px;font-size:8.6px;font-weight:400;color:#5a5f67;transform:scaleX(0.9300);">см</span>
<span class="t" id="t93" style="left:673.25px;top:287.44px;font-size:8.6px;font-weight:700;color:#1b80c2;transform:scaleX(0.7973);">5 см</span>
<span class="t" id="t94" style="left:753.75px;top:287.44px;font-size:8.6px;font-weight:400;color:#33373d;transform:scaleX(0.8887);">40 000.00 тнг</span>
<span class="t" id="t95" style="left:834.5px;top:287.44px;font-size:8.6px;font-weight:400;color:#33373d;transform:scaleX(0.8645);">0.576</span>
<span class="t" id="t96" style="left:147.7px;top:312.38px;font-size:8.6px;font-weight:400;color:#33373d;transform:scaleX(0.8627);">3420</span>
<span class="t" id="t97" style="left:189.6px;top:312.38px;font-size:8.6px;font-weight:400;color:#33373d;transform:scaleX(0.8261);">ываыа</span>
<span class="t" id="t98" style="left:431.5px;top:312.38px;font-size:8.6px;font-weight:400;color:#33373d;transform:scaleX(0.8792);">0.56 тнг</span>
<span class="t" id="t99" style="left:592.5px;top:312.38px;font-size:8.6px;font-weight:400;color:#5a5f67;transform:scaleX(0.9300);">см</span>
<span class="t" id="t100" style="left:673.4px;top:312.38px;font-size:8.6px;font-weight:400;color:#666;transform:scaleX(0.8000);">-</span>
<span class="t" id="t101" style="left:753.9px;top:312.38px;font-size:8.6px;font-weight:400;color:#666;transform:scaleX(0.8000);">-</span>
<span class="t" id="t102" style="left:834.5px;top:312.38px;font-size:8.6px;font-weight:400;color:#33373d;transform:scaleX(0.8645);">1.000</span>
<span class="t" id="t103" style="left:147.7px;top:337.32px;font-size:8.6px;font-weight:400;color:#33373d;transform:scaleX(0.8627);">3958</span>
<span class="t" id="t104" style="left:189.6px;top:337.32px;font-size:8.6px;font-weight:400;color:#33373d;transform:scaleX(0.9300);">ккк</span>
<span class="t" id="t105" style="left:431.5px;top:337.32px;font-size:8.6px;font-weight:400;color:#33373d;transform:scaleX(0.8642);">500.00 тнг</span>
<span class="t" id="t106" style="left:592.5px;top:337.32px;font-size:8.6px;font-weight:400;color:#5a5f67;transform:scaleX(0.9300);">мл</span>
<span class="t" id="t107" style="left:673.25px;top:337.32px;font-size:8.6px;font-weight:700;color:#c5161d;transform:scaleX(0.8372);">-2 мл</span>
<span class="t" id="t108" style="left:753.75px;top:337.32px;font-size:8.6px;font-weight:400;color:#d0343c;transform:scaleX(0.8945);">-1 000.00 тнг</span>
<span class="t" id="t109" style="left:834.5px;top:337.32px;font-size:8.6px;font-weight:400;color:#33373d;transform:scaleX(0.8688);">100.000</span>
<span class="t" id="t110" style="left:147.7px;top:362.26px;font-size:8.6px;font-weight:400;color:#33373d;transform:scaleX(0.8627);">4525</span>
<span class="t" id="t111" style="left:189.6px;top:362.26px;font-size:8.6px;font-weight:400;color:#33373d;transform:scaleX(0.8277);">септанест</span>
<span class="t" id="t112" style="left:431.5px;top:362.26px;font-size:8.6px;font-weight:400;color:#33373d;transform:scaleX(0.8735);">35.00 тнг</span>
<span class="t" id="t113" style="left:592.5px;top:362.26px;font-size:8.6px;font-weight:400;color:#5a5f67;transform:scaleX(0.9300);">мл</span>
<span class="t" id="t114" style="left:673.4px;top:362.26px;font-size:8.6px;font-weight:400;color:#666;transform:scaleX(0.8000);">-</span>
<span class="t" id="t115" style="left:753.9px;top:362.26px;font-size:8.6px;font-weight:400;color:#666;transform:scaleX(0.8000);">-</span>
<span class="t" id="t116" style="left:834.5px;top:362.26px;font-size:8.6px;font-weight:400;color:#33373d;transform:scaleX(0.8645);">0.000</span>
<span class="t" id="t117" style="left:146.6px;top:393.30px;font-size:8.5px;font-weight:400;color:#9aa0a8;transform:scaleX(0.8026);">«</span>
<span class="t" id="t118" style="left:160.6px;top:393.20px;font-size:9.2px;font-weight:700;color:#fff;transform:scaleX(0.7805);">1</span>
<span class="t" id="t119" style="left:175.2px;top:393.20px;font-size:9.2px;font-weight:400;color:#2b2e33;transform:scaleX(0.8585);">2</span>
<span class="t" id="t120" style="left:190.2px;top:393.20px;font-size:9.2px;font-weight:400;color:#2b2e33;transform:scaleX(0.7821);">...</span>
<span class="t" id="t121" style="left:206.6px;top:393.20px;font-size:9.2px;font-weight:400;color:#2b2e33;transform:scaleX(0.8976);">4</span>
<span class="t" id="t122" style="left:221.4px;top:393.30px;font-size:8.5px;font-weight:400;color:#4b4f56;transform:scaleX(0.8026);">»</span>
</body>
</html>
